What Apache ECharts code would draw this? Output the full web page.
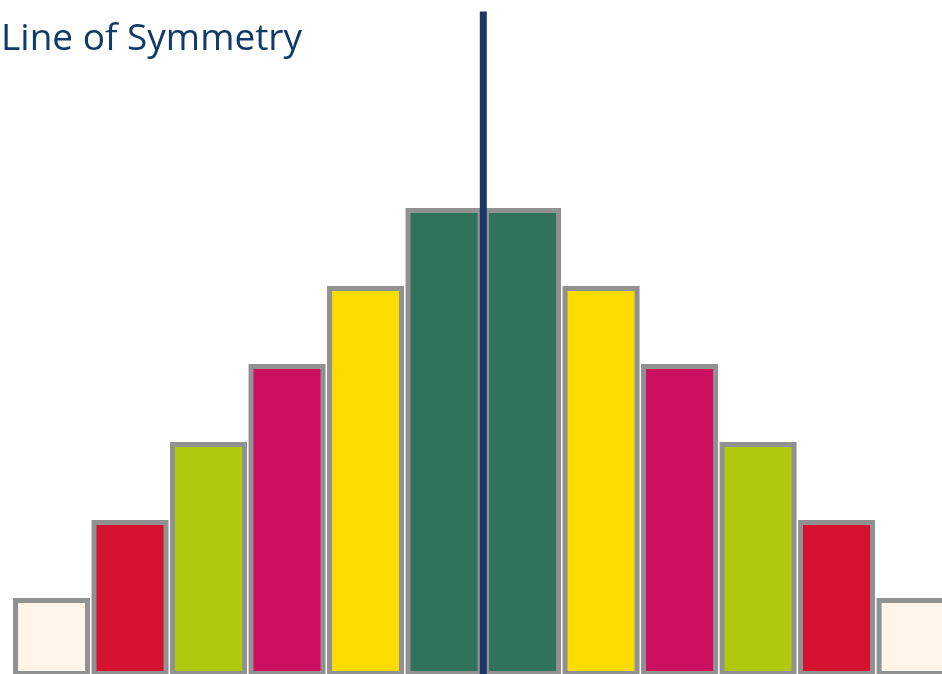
<!DOCTYPE html>
<html>
<head>
<meta charset="utf-8">
<script src="https://cdn.jsdelivr.net/npm/echarts@6/dist/echarts.min.js"></script>
<style>
html,body{margin:0;padding:0;background:#fff;}
#c{width:942px;height:674px;}
</style>
</head>
<body>
<div id="c"></div>
<script>
var categories = ['1','2','3','4','5','6','7','8','9','10','11','12'];
var values = [1, 2, 3, 4, 5, 6, 6, 5, 4, 3, 2, 1];
var barColors = ['#FFF4E8','#D51230','#AFCA0D','#CC0F5E','#FFDC00','#31725D','#31725D','#FFDC00','#CC0F5E','#AFCA0D','#D51230','#FFF4E8'];
var symmetryX = [6, 6];
var symmetryY = [8.52, 0];
var titleText = 'Line of Symmetry';

var chart = echarts.init(document.getElementById('c'), null, {renderer: 'canvas'});
var barData = values.map(function (v, i) {
  return {value: v, itemStyle: {color: barColors[i]}};
});
chart.setOption({
  animation: false,
  title: {
    text: titleText,
    left: 1,
    top: 21,
    padding: 0,
    textStyle: {color: '#0F3A6A', fontSize: 37, fontWeight: 'normal', fontFamily: 'Open Sans'}
  },
  grid: {left: 12.3, top: 0, width: 942, height: 676, outerBoundsMode: 'none', containLabel: false},
  xAxis: [
    {type: 'category', data: categories, show: false, boundaryGap: true},
    {type: 'value', min: 0, max: 12, show: false}
  ],
  yAxis: {type: 'value', min: 0, max: 8.667, show: false},
  series: [
    {
      type: 'bar',
      data: barData,
      barWidth: 77,
      clip: false,
      itemStyle: {borderColor: '#919191', borderWidth: 5}
    },
    {
      type: 'line',
      xAxisIndex: 1,
      data: symmetryX.map(function (x, i) { return [x, symmetryY[i]]; }),
      symbol: 'none',
      clip: false,
      lineStyle: {color: '#1B3864', width: 7, cap: 'butt'},
      z: 5
    }
  ]
});
</script>
</body>
</html>
